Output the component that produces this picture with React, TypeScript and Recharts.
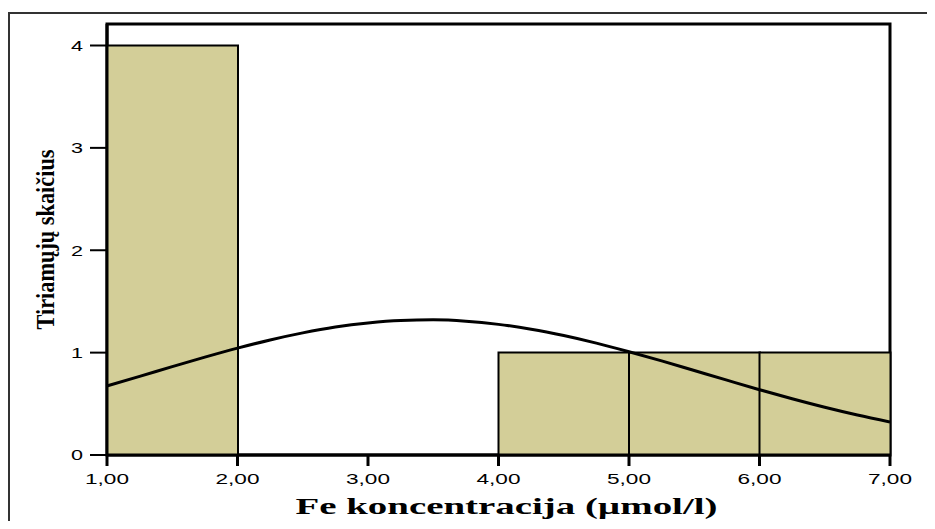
import React from 'react';
import { ComposedChart, Bar, Line, XAxis, YAxis, ReferenceArea } from 'recharts';

const binLabels = ['1-2', '2-3', '3-4', '4-5', '5-6', '6-7'];
const binCounts = [4, 0, 0, 1, 1, 1];

const curveX = [1, 1.25, 1.5, 1.75, 2, 2.25, 2.5, 2.75, 3, 3.25, 3.5, 3.75, 4, 4.25, 4.5, 4.75, 5, 5.25, 5.5, 5.75, 6, 6.25, 6.5, 6.75, 7];
const curveY = [0.675, 0.768, 0.863, 0.956, 1.044, 1.124, 1.193, 1.25, 1.29, 1.314, 1.32, 1.307, 1.276, 1.229, 1.167, 1.093, 1.009, 0.919, 0.825, 0.731, 0.638, 0.55, 0.467, 0.391, 0.323];

const xTicks = [1, 2, 3, 4, 5, 6, 7];
const xTickLabels = ['1,00', '2,00', '3,00', '4,00', '5,00', '6,00', '7,00'];
const yTicks = [0, 1, 2, 3, 4];
const xDomain = [1, 7];
const yDomain = [0, 4.21];

const xTitle = 'Fe koncentracija (µmol/l)';
const yTitle = 'Tiriamųjų skaičius';

const binData = binLabels.map((b, i) => ({ bin: b, count: binCounts[i] }));
const curveData = curveX.map((x, i) => ({ x, y: curveY[i] }));

const XTick = (props: any) => {
  const { x, y, payload } = props;
  const idx = xTicks.indexOf(payload.value);
  const label = idx >= 0 ? xTickLabels[idx] : String(payload.value);
  return (
    <g>
      <line x1={x} x2={x} y1={y - 13} y2={y - 2} stroke="#000" strokeWidth={3} />
      <text x={x} y={y + 16} textAnchor="middle" fontFamily="'Liberation Sans', Arial, sans-serif" fontSize={15} fill="#000" stroke="none" textLength={44} lengthAdjust="spacingAndGlyphs">
        {label}
      </text>
    </g>
  );
};

const YTick = (props: any) => {
  const { x, y, payload } = props;
  return (
    <g>
      <line x1={x + 2} x2={x + 19} y1={y} y2={y} stroke="#000" strokeWidth={2} />
      <text x={x - 5} y={y} dy="0.36em" textAnchor="end" fontFamily="'Liberation Sans', Arial, sans-serif" fontSize={15} fill="#000" stroke="none" textLength={12} lengthAdjust="spacingAndGlyphs">
        {String(payload.value)}
      </text>
    </g>
  );
};

const XTitle = (props: any) => {
  const vb = props.viewBox || { x: 0, y: 0, width: 0, height: 0 };
  const cx = vb.x + vb.width / 2 + 8;
  return (
    <text x={cx} y={506} textAnchor="middle" fontFamily="'Liberation Serif', 'Times New Roman', serif" fontWeight="bold" fontSize={24} fill="#000" stroke="none" textLength={422} lengthAdjust="spacingAndGlyphs">
      {xTitle}
    </text>
  );
};

const YTitle = (props: any) => {
  const vb = props.viewBox || { x: 0, y: 0, width: 0, height: 0 };
  const cx = 46;
  const cy = vb.y + vb.height / 2;
  return (
    <text x={cx} y={cy} transform={`rotate(-90, ${cx}, ${cy})`} textAnchor="middle" fontFamily="'Liberation Serif', 'Times New Roman', serif" fontWeight="bold" fontSize={25} fill="#000" stroke="none" textLength={180} lengthAdjust="spacingAndGlyphs">
      {yTitle}
    </text>
  );
};

export default function App() {
  return (
    <div style={{ position: 'relative', width: 927, height: 521, marginBottom: -8, overflow: 'hidden', background: '#fff' }}>
      <div style={{ position: 'absolute', left: 0, top: 4, width: 1200, height: 1200, borderTop: '2px solid #333', borderLeft: '2px solid #333' }} />
      <div style={{ position: 'absolute', left: 0, top: 0 }}>
        <ComposedChart
          width={927}
          height={521}
          data={binData}
          margin={{ top: 16, right: 45, bottom: 44, left: 59 }}
          barCategoryGap={0}
          barGap={0}
        >
          <XAxis xAxisId="bins" dataKey="bin" type="category" hide height={0} padding={{ left: 0, right: 0 }} />
          <XAxis
            xAxisId="num"
            dataKey="x"
            type="number"
            domain={xDomain}
            ticks={xTicks}
            allowDataOverflow
            height={30}
            stroke="#000"
            axisLine={{ stroke: '#000', strokeWidth: 3 }}
            tickLine={false}
            tickSize={11}
            tick={<XTick />}
            interval={0}
            label={<XTitle />}
          />
          <YAxis
            yAxisId="left"
            type="number"
            domain={yDomain}
            ticks={yTicks}
            allowDataOverflow
            width={40}
            stroke="#000"
            axisLine={{ stroke: '#000', strokeWidth: 3 }}
            tickLine={false}
            tickSize={17}
            tick={<YTick />}
            interval={0}
            label={<YTitle />}
          />
          <Bar
            xAxisId="bins"
            yAxisId="left"
            dataKey="count"
            fill="#d3ce98"
            stroke="#000"
            strokeWidth={2}
            isAnimationActive={false}
          />
          <Line
            xAxisId="num"
            yAxisId="left"
            data={curveData}
            dataKey="y"
            type="monotone"
            stroke="#000"
            strokeWidth={3}
            dot={false}
            activeDot={false}
            isAnimationActive={false}
          />
          <ReferenceArea
            xAxisId="num"
            yAxisId="left"
            x1={xDomain[0]}
            x2={xDomain[1]}
            y1={yDomain[0]}
            y2={yDomain[1]}
            fill="none"
            fillOpacity={0}
            stroke="#000"
            strokeWidth={3}
            strokeOpacity={1}
            ifOverflow="visible"
          />
        </ComposedChart>
      </div>
    </div>
  );
}
